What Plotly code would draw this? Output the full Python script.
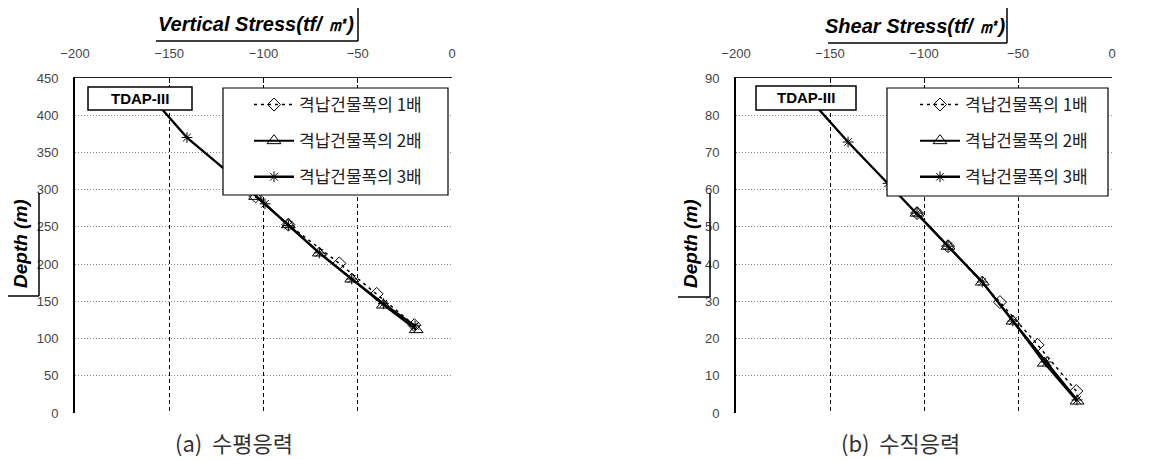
import plotly.graph_objects as go

# page body has an 8px margin: design in screen pixels, shift by OFF
OFF = 8
W, H = 1174 - OFF, 460 - OFF

# ---------------- data ----------------
legend_names = ["격납건물폭의 1배", "격납건물폭의 2배", "격납건물폭의 3배"]

# (a) Vertical stress  (x: stress tf/m2, y: depth m)
v1_x = [-20, -40, -59.8, -86.8, -104.2]
v1_d = [118, 160, 201, 253, 291]
v2_x = [-19, -36.4, -53.2, -70.4, -86.8, -104.2]
v2_d = [112, 145, 180, 215, 253, 291]
v3_x = [-19.6, -36.4, -53.2, -70.4, -86.8, -99.2, -118, -140.6, -158]
v3_d = [117, 147, 180, 215, 252, 281, 322, 370, 420]

# (b) Shear stress
s1_x = [-19, -39.6, -59.6, -87.2, -103.7]
s1_d = [5.9, 18.3, 29.8, 44.8, 53.7]
s2_x = [-18.6, -36, -52.7, -69, -87.2, -103.7]
s2_d = [3.2, 13.4, 24.7, 35.2, 44.8, 53.7]
s3_x = [-18.6, -35, -52.7, -69, -87.2, -103.7, -119.1, -140.4, -162]
s3_d = [3.5, 13.7, 24.7, 35.2, 44.8, 53.7, 61.7, 72.8, 85]

x_ticks = [-200, -150, -100, -50, 0]
v_ticks = list(range(0, 451, 50))
s_ticks = list(range(0, 91, 10))

titles = ["Vertical Stress(tf/ ㎡)", "Shear Stress(tf/ ㎡)"]
captions = ["(a)  수평응력", "(b)  수직응력"]
box_label = "TDAP-III"
y_title = "Depth (m)"

# ---------------- helpers ----------------
def px(x):
    return (x - OFF) / W

def py(y):
    return 1 - (y - OFF) / H

fig = go.Figure()

styles = [
    dict(line=dict(color="black", width=1.5, dash="3px,4px"),
         marker=dict(symbol="diamond-open", size=10, color="black", line=dict(width=1))),
    dict(line=dict(color="black", width=2),
         marker=dict(symbol="triangle-up-open", size=12, color="black", line=dict(width=1))),
    dict(line=dict(color="black", width=2.3),
         marker=dict(symbol="asterisk-open", size=9, color="black", line=dict(width=1))),
]

left_sets = [(v1_x, v1_d), (v2_x, v2_d), (v3_x, v3_d)]
right_sets = [(s1_x, s1_d), (s2_x, s2_d), (s3_x, s3_d)]

for i, (xs, ds) in enumerate(left_sets):
    fig.add_trace(go.Scatter(x=xs, y=ds, mode="lines+markers", name=legend_names[i],
                             xaxis="x", yaxis="y", legend="legend",
                             legendgroup="L%d" % i, **styles[i]))
for i, (xs, ds) in enumerate(right_sets):
    fig.add_trace(go.Scatter(x=xs, y=ds, mode="lines+markers", name=legend_names[i],
                             xaxis="x2", yaxis="y2", legend="legend2",
                             legendgroup="R%d" % i, **styles[i]))

tickfont = dict(family="Liberation Sans, Arial", size=13, color="#444")
ydom = [py(413), py(78)]
xdomL = [px(75), px(452)]
xdomR = [px(736), px(1112)]

def xaxis_top(dom, anchor):
    return dict(domain=dom, anchor=anchor, side="top", range=[-200, 0],
                tickvals=x_ticks, ticks="inside", ticklen=5, tickcolor="black",
                showline=True, linecolor="#222", linewidth=1, showgrid=True,
                gridcolor="black", griddash="4px,3px", gridwidth=1, zeroline=False,
                tickfont=tickfont, ticklabelstandoff=14, automargin=False,
                fixedrange=True)

def xaxis_bottom(over, anchor):
    return dict(overlaying=over, anchor=anchor, side="bottom", range=[-200, 0],
                showline=True, linecolor="black", linewidth=2, showgrid=False,
                showticklabels=False, ticks="", zeroline=False, automargin=False)

def yaxis_left(anchor, ticks_, rng):
    return dict(domain=ydom, anchor=anchor, range=rng, tickvals=ticks_,
                showline=True, linecolor="black", linewidth=2, ticks="",
                showgrid=True, gridcolor="#888", griddash="1px,2px", gridwidth=1,
                zeroline=False, tickfont=tickfont, ticklabelstandoff=12,
                automargin=False)

def yaxis_right(over, anchor, ticks_, rng):
    return dict(overlaying=over, anchor=anchor, side="right", range=rng, tickvals=ticks_,
                showline=True, linecolor="black", linewidth=2, ticks="outside",
                ticklen=5, tickcolor="black", showgrid=False, showticklabels=False,
                zeroline=False, automargin=False)

fig.update_layout(
    width=W, height=H, margin=dict(l=0, r=0, t=0, b=0),
    paper_bgcolor="white", plot_bgcolor="white",
    xaxis=xaxis_top(xdomL, "y"),
    xaxis2=xaxis_top(xdomR, "y2"),
    xaxis3=xaxis_bottom("x", "y"),
    xaxis4=xaxis_bottom("x2", "y2"),
    yaxis=yaxis_left("x", v_ticks, [0, 450]),
    yaxis2=yaxis_left("x2", s_ticks, [0, 90]),
    yaxis3=yaxis_right("y", "x", v_ticks, [0, 450]),
    yaxis4=yaxis_right("y2", "x2", s_ticks, [0, 90]),
    showlegend=True,
)

legfont = dict(family="Noto Sans CJK KR", size=17, color="#222")
for key, x0 in (("legend", 249), ("legend2", 915)):
    fig.layout[key] = dict(x=px(x0), y=py(87), xanchor="left", yanchor="top",
                           bgcolor="rgba(0,0,0,0)", borderwidth=0, font=legfont,
                           tracegroupgap=11, itemwidth=40, traceorder="grouped")

shapes = []
def line(x0, y0, x1, y1, w=1.5):
    shapes.append(dict(type="line", xref="paper", yref="paper",
                       x0=px(x0), y0=py(y0), x1=px(x1), y1=py(y1),
                       line=dict(color="black", width=w), layer="above"))

def rect(x0, y0, x1, y1, w=1.2):
    shapes.append(dict(type="rect", xref="paper", yref="paper",
                       x0=px(x0), y0=py(y0), x1=px(x1), y1=py(y1),
                       fillcolor="white", line=dict(color="black", width=w), layer="above"))

# title brackets
line(156, 41, 358, 41); line(358, 6, 358, 41)
line(828, 43, 1007, 43); line(1007, 7, 1007, 43)
# depth brackets
line(39, 193, 39, 296); line(7, 296, 39, 296)
line(710, 193, 710, 297); line(678, 297, 710, 297)
# TDAP boxes
rect(88, 87, 192, 110, 1.5)
rect(756, 86, 856, 110, 1.5)
# legend boxes
rect(223, 88, 448, 195)
rect(887, 88, 1108, 196)
fig.update_layout(shapes=shapes)

ann = []
titlefont = dict(family="Liberation Sans, Arial", size=20, color="black", weight="bold", style="italic")
depthfont = dict(family="Liberation Sans, Arial", size=19, color="black", weight="bold", style="italic")
def text(x, y, t, font, angle=0):
    ann.append(dict(x=px(x), y=py(y), xref="paper", yref="paper", text=t,
                    showarrow=False, xanchor="center", yanchor="middle",
                    font=font, textangle=angle))

text(256, 24, titles[0], titlefont)
text(915, 26, titles[1], titlefont)
text(20, 244, y_title, depthfont, -90)
text(690, 244, y_title, depthfont, -90)
boxfont = dict(family="Liberation Sans, Arial", size=15, color="black", weight="bold")
text(140, 98.5, box_label, boxfont)
text(806, 98, box_label, boxfont)
capfont = dict(family="Noto Sans CJK KR", size=22, color="#333")
text(234, 442, captions[0], capfont)
text(900, 442, captions[1], capfont)
fig.update_layout(annotations=ann)

fig.write_html("out.html")
